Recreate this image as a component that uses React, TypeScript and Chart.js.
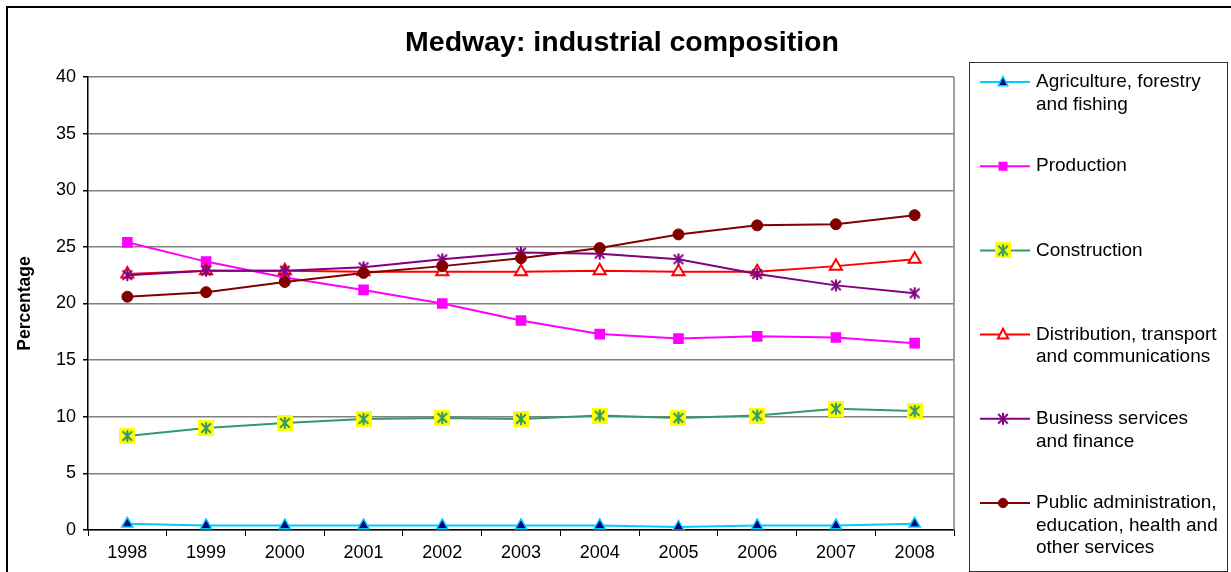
import React, { useEffect, useRef } from 'react';
import { Chart, registerables } from 'chart.js';

Chart.register(...registerables);

const years = ['1998', '1999', '2000', '2001', '2002', '2003', '2004', '2005', '2006', '2007', '2008'];
const agriculture = [0.55, 0.4, 0.4, 0.4, 0.4, 0.4, 0.4, 0.27, 0.4, 0.4, 0.55];
const production = [25.4, 23.7, 22.3, 21.2, 20.0, 18.5, 17.3, 16.9, 17.1, 17.0, 16.5];
const construction = [8.3, 9.0, 9.45, 9.8, 9.9, 9.8, 10.1, 9.9, 10.1, 10.7, 10.5];
const distribution = [22.6, 22.9, 22.9, 22.8, 22.8, 22.8, 22.9, 22.8, 22.8, 23.3, 23.9];
const business = [22.5, 22.9, 22.9, 23.2, 23.9, 24.5, 24.4, 23.9, 22.6, 21.6, 20.9];
const publicAdmin = [20.6, 21.0, 21.9, 22.7, 23.3, 24.0, 24.9, 26.1, 26.9, 27.0, 27.8];

const seriesNames = [
  ['Agriculture, forestry', 'and fishing'],
  ['Production'],
  ['Construction'],
  ['Distribution, transport', 'and communications'],
  ['Business services', 'and finance'],
  ['Public administration,', 'education, health and', 'other services'],
];

const titleText = 'Medway: industrial composition';
const yTitle = 'Percentage';
const yMin = 0;
const yMax = 40;
const yStep = 5;

const FAMILY = '"Liberation Sans", Arial, sans-serif';

function makeAsterisk(size: number, bg: string | null, color: string, lw: number, inset: number): HTMLCanvasElement {
  const c = document.createElement('canvas');
  c.width = size;
  c.height = size;
  const g = c.getContext('2d')!;
  if (bg) {
    g.fillStyle = bg;
    g.fillRect(0, 0, size, size);
  }
  g.strokeStyle = color;
  g.lineWidth = lw;
  g.lineCap = 'butt';
  const m = size / 2;
  const r = size / 2 - inset;
  const d = r * 0.8;
  g.beginPath();
  g.moveTo(m, m - r);
  g.lineTo(m, m + r);
  g.moveTo(m - d, m - d);
  g.lineTo(m + d, m + d);
  g.moveTo(m + d, m - d);
  g.lineTo(m - d, m + d);
  g.stroke();
  return c;
}

function drawMarker(ctx: CanvasRenderingContext2D, ds: any, x: number, y: number, scale: number) {
  const style = ds.pointStyle;
  const r = ds.pointRadius * scale;
  ctx.save();
  if (style instanceof HTMLCanvasElement) {
    ctx.drawImage(style, x - style.width / 2, y - style.height / 2);
    ctx.restore();
    return;
  }
  ctx.fillStyle = ds.pointBackgroundColor;
  ctx.strokeStyle = ds.pointBorderColor;
  ctx.lineWidth = ds.pointBorderWidth;
  ctx.beginPath();
  if (style === 'triangle') {
    ctx.moveTo(x, y - r);
    ctx.lineTo(x + r * 0.866, y + r * 0.5 + 1);
    ctx.lineTo(x - r * 0.866, y + r * 0.5 + 1);
    ctx.closePath();
  } else if (style === 'rect') {
    const s = r * Math.SQRT1_2;
    ctx.rect(x - s, y - s, 2 * s, 2 * s);
  } else {
    ctx.arc(x, y, r, 0, Math.PI * 2);
  }
  ctx.fill();
  if (ds.pointBorderWidth > 0) ctx.stroke();
  ctx.restore();
}

export default function App() {
  const ref = useRef<HTMLCanvasElement>(null);

  useEffect(() => {
    const canvas = ref.current!;
    const conMark = makeAsterisk(16, '#FFFF00', '#339966', 2, 2);
    const busMark = makeAsterisk(16, null, '#800080', 2, 2);

    const datasets: any[] = [
      {
        label: seriesNames[0].join(' '),
        data: agriculture,
        borderColor: '#00CCFF',
        borderWidth: 2,
        pointStyle: 'triangle',
        pointRadius: 6.5,
        pointBackgroundColor: '#000080',
        pointBorderColor: '#00CCFF',
        pointBorderWidth: 1.5,
        order: 5,
      },
      {
        label: seriesNames[1].join(' '),
        data: production,
        borderColor: '#FF00FF',
        borderWidth: 2,
        pointStyle: 'rect',
        pointRadius: 7.5,
        pointBackgroundColor: '#FF00FF',
        pointBorderColor: '#FF00FF',
        pointBorderWidth: 0,
        order: 4,
      },
      {
        label: seriesNames[2].join(' '),
        data: construction,
        borderColor: '#339966',
        borderWidth: 2,
        pointStyle: conMark,
        pointRadius: 8,
        order: 3,
      },
      {
        label: seriesNames[3].join(' '),
        data: distribution,
        borderColor: '#FF0000',
        borderWidth: 2,
        pointStyle: 'triangle',
        pointRadius: 7,
        pointBackgroundColor: '#FFFFFF',
        pointBorderColor: '#FF0000',
        pointBorderWidth: 2,
        order: 2,
      },
      {
        label: seriesNames[4].join(' '),
        data: business,
        borderColor: '#800080',
        borderWidth: 2,
        pointStyle: busMark,
        pointRadius: 8,
        order: 1,
      },
      {
        label: seriesNames[5].join(' '),
        data: publicAdmin,
        borderColor: '#800000',
        borderWidth: 2,
        pointStyle: 'circle',
        pointRadius: 5.5,
        pointBackgroundColor: '#800000',
        pointBorderColor: '#800000',
        pointBorderWidth: 1,
        order: 0,
      },
    ];
    datasets.forEach((d) => {
      d.tension = 0;
      d.fill = false;
    });

    const framePlugin = {
      id: 'frame',
      beforeDatasetsDraw(chart: any) {
        const { ctx, chartArea } = chart;
        ctx.save();
        ctx.strokeStyle = '#808080';
        ctx.lineWidth = 1.5;
        ctx.beginPath();
        ctx.moveTo(Math.round(chartArea.right), chartArea.top);
        ctx.lineTo(Math.round(chartArea.right), chartArea.bottom);
        ctx.stroke();
        ctx.restore();
      },
      afterDraw(chart: any) {
        const ctx: CanvasRenderingContext2D = chart.ctx;
        ctx.save();
        // outer border
        ctx.strokeStyle = '#000';
        ctx.lineWidth = 2;
        ctx.strokeRect(7, 7, 1400, 800);
        // title
        ctx.fillStyle = '#000';
        ctx.font = `bold 28.5px ${FAMILY}`;
        ctx.textAlign = 'center';
        ctx.textBaseline = 'middle';
        ctx.fillText(titleText, 622, 43);
        // legend box
        ctx.strokeStyle = '#333';
        ctx.lineWidth = 1;
        ctx.strokeRect(969.5, 62.5, 258, 509);
        ctx.font = `19px ${FAMILY}`;
        ctx.textAlign = 'left';
        datasets.forEach((ds, i) => {
          const y0 = 82 + i * 84.2;
          ctx.strokeStyle = ds.borderColor;
          ctx.lineWidth = 2;
          ctx.beginPath();
          ctx.moveTo(980, y0);
          ctx.lineTo(1030, y0);
          ctx.stroke();
          drawMarker(ctx, ds, 1003, y0, 0.85);
          ctx.fillStyle = '#000';
          seriesNames[i].forEach((line, k) => {
            ctx.fillText(line, 1036, y0 + k * 22.5);
          });
        });
        ctx.restore();
      },
    };

    const tickFont = { family: FAMILY, size: 18 };

    const chart = new Chart(canvas, {
      type: 'line',
      data: { labels: years, datasets },
      options: {
        responsive: false,
        animation: false,
        layout: { padding: { left: 8, right: 277, top: 77, bottom: 0 } },
        plugins: {
          legend: { display: false },
          title: { display: false },
          tooltip: { enabled: false },
        },
        scales: {
          x: {
            offset: true,
            grid: {
              offset: true,
              drawOnChartArea: false,
              drawTicks: true,
              tickLength: 6,
              tickColor: '#000',
            },
            border: { color: '#000', width: 1.5 },
            ticks: { font: tickFont, color: '#000', padding: 6, maxRotation: 0, autoSkip: false },
            afterFit: (s: any) => {
              s.height = 42;
            },
          },
          y: {
            min: yMin,
            max: yMax,
            ticks: { stepSize: yStep, font: tickFont, color: '#000', padding: 7 },
            grid: { color: '#808080', lineWidth: 1.5, tickLength: 5, tickColor: '#000' },
            border: { color: '#000', width: 1.5 },
            title: {
              display: true,
              text: yTitle,
              color: '#000',
              font: { family: FAMILY, size: 17.5, weight: 'bold' },
              padding: { top: 7, bottom: 0 },
            },
            afterFit: (s: any) => {
              s.width = 80;
            },
          },
        },
      } as any,
      plugins: [framePlugin],
    });

    return () => chart.destroy();
  }, []);

  return (
    <div style={{ position: 'absolute', left: 0, top: 0, width: 1231, height: 572, background: '#fff' }}>
      <canvas ref={ref} width={1231} height={572} style={{ display: 'block' }} />
    </div>
  );
}
